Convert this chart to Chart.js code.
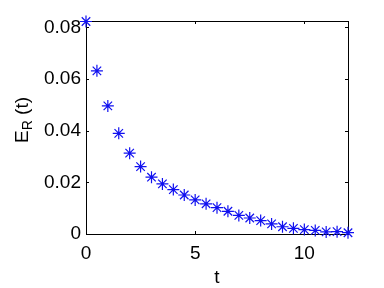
<!DOCTYPE html>
<html><head><meta charset="utf-8">
<script src="https://cdn.jsdelivr.net/npm/chart.js@4"></script>
<style>html,body{margin:0;padding:0;background:#fff}#wrap{width:384px;height:288px}</style>
</head><body><div id="wrap"><canvas id="c" width="384" height="288"></canvas></div>
<script>
const tValues = [0,0.5,1,1.5,2,2.5,3,3.5,4,4.5,5,5.5,6,6.5,7,7.5,8,8.5,9,9.5,10,10.5,11,11.5,12];
const erValues = [0.0823,0.0632,0.0496,0.0390,0.0313,0.0261,0.0220,0.0194,0.0172,0.0151,0.0132,0.0117,0.0102,0.0088,0.0072,0.0062,0.0052,0.0039,0.0028,0.0022,0.0017,0.0014,0.0008,0.0009,0.0005];
const xTicks = [0,5,10];
const yTicks = [0,0.02,0.04,0.06,0.08];
const xLabel = 't';
const yLabelMain = 'E', yLabelSub = 'R', yLabelRest = ' (t)';

const FONT = '"Liberation Sans", Arial, Helvetica, sans-serif';

const boxPlugin = {
  id: 'box',
  beforeDatasetsDraw(chart) {
    const ctx = chart.ctx, a = chart.chartArea;
    const xs = chart.scales.x, ys = chart.scales.y;
    ctx.save();
    ctx.strokeStyle = '#000';
    ctx.lineWidth = 1;
    ctx.strokeRect(Math.round(a.left)+0.5, Math.round(a.top)+0.5, Math.round(a.right-a.left), Math.round(a.bottom-a.top));
    const tl = 3;
    ctx.beginPath();
    xTicks.forEach(v => {
      const px = Math.round(xs.getPixelForValue(v)) + 0.5;
      ctx.moveTo(px, a.bottom); ctx.lineTo(px, a.bottom - tl);
      ctx.moveTo(px, a.top); ctx.lineTo(px, a.top + tl);
    });
    yTicks.forEach(v => {
      const py = Math.round(ys.getPixelForValue(v)) + 0.5;
      ctx.moveTo(a.left, py); ctx.lineTo(a.left + tl, py);
      ctx.moveTo(a.right, py); ctx.lineTo(a.right - tl, py);
    });
    ctx.stroke();
    // x title
    ctx.fillStyle = '#000';
    ctx.font = '19px ' + FONT;
    ctx.textAlign = 'center';
    ctx.textBaseline = 'alphabetic';
    ctx.fillText(xLabel, (a.left + a.right) / 2, 283);
    // y title with subscript
    ctx.translate(28, 143);
    ctx.rotate(-Math.PI / 2);
    ctx.textAlign = 'left';
    ctx.font = '19px ' + FONT;
    ctx.fillText(yLabelMain, 0, 0);
    let w = ctx.measureText(yLabelMain).width;
    ctx.font = '14px ' + FONT;
    ctx.fillText(yLabelSub, w, 4);
    w += ctx.measureText(yLabelSub).width;
    ctx.font = '19px ' + FONT;
    ctx.fillText(yLabelRest, w, 0);
    ctx.restore();
  }
};

new Chart(document.getElementById('c'), {
  type: 'scatter',
  data: {
    datasets: [{
      data: tValues.map((t, i) => ({x: t, y: erValues[i]})),
      pointStyle: 'star',
      pointRadius: 6,
      pointHoverRadius: 6,
      borderColor: '#1010f0',
      backgroundColor: '#1010f0',
      borderWidth: 1.2,
      showLine: false,
      clip: false
    }]
  },
  options: {
    responsive: false,
    animation: false,
    devicePixelRatio: 1,
    layout: { padding: { left: 0, top: 21, right: 36, bottom: 0 } },
    plugins: { legend: { display: false }, tooltip: { enabled: false } },
    scales: {
      x: {
        type: 'linear', min: 0, max: 12,
        afterBuildTicks: s => { s.ticks = xTicks.map(v => ({value: v})); },
        afterFit: s => { s.height = 54; },
        grid: { display: false, drawTicks: false },
        border: { display: false },
        ticks: { color: '#000', font: { family: FONT, size: 19 }, padding: 8, maxRotation: 0,
                 callback: v => String(v) }
      },
      y: {
        type: 'linear', min: 0, max: 0.0825,
        afterBuildTicks: s => { s.ticks = yTicks.map(v => ({value: v})); },
        afterFit: s => { s.width = 86; },
        grid: { display: false, drawTicks: false },
        border: { display: false },
        ticks: { color: '#000', font: { family: FONT, size: 19 }, padding: 5,
                 callback: v => v === 0 ? '0' : v.toFixed(2) }
      }
    }
  },
  plugins: [boxPlugin]
});
</script></body></html>
